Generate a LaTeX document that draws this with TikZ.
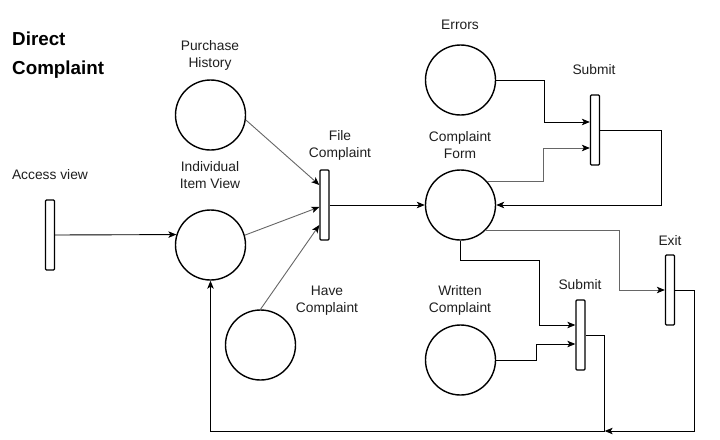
\documentclass[tikz,border=0pt]{standalone}
\usepackage{fontspec}
\setmainfont{Liberation Sans}
\usetikzlibrary{arrows.meta}
\begin{document}
\begin{tikzpicture}[x=1pt,y=-1pt,
 place/.style={circle,draw,line width=1.4pt,minimum size=70pt,inner sep=0pt},
 bar/.style={rectangle,draw,line width=1.3pt,minimum width=9pt,minimum height=70pt,inner sep=0pt,rounded corners=1pt,fill=white},
 lbl/.style={align=center,font=\fontsize{13.8}{17}\selectfont,text=black!88,inner sep=0pt},
 conn/.style={-{Stealth[length=8pt,width=6.5pt,inset=2pt,color=black]},line width=0.9pt},
 gconn/.style={conn,draw=black!60}]
\useasboundingbox (0,0) rectangle (720,439);
\fill[white] (0,0) rectangle (720,439);
% places
\node[place] (ph) at (210.5,115) {};
\node[place] (iiv) at (210.5,245) {};
\node[place] (hc) at (260.5,345) {};
\node[place] (cf) at (460.5,205) {};
\node[place] (err) at (460.5,80) {};
\node[place] (wc) at (460.5,360) {};
% transitions
\node[bar] (av) at (50,235) {};
\node[bar] (fc) at (324.5,205) {};
\node[bar] (s1) at (595,130) {};
\node[bar] (s2) at (580.5,335) {};
\node[bar] (ex) at (670,290) {};
% labels
\node[anchor=west,align=left,inner sep=0pt,font=\fontsize{18.8}{29}\selectfont\bfseries] (title) at (12,55) {Direct\\Complaint};
\node[lbl] (lav) at (50,175) {Access view};
\node[lbl] (lph) at (210,55.5) {Purchase\\History};
\node[lbl] (liiv) at (210,175.5) {Individual\\Item View};
\node[lbl] (lfc) at (340,145.5) {File\\Complaint};
\node[lbl] (lhc) at (327,300.5) {Have\\Complaint};
\node[lbl] (lerr) at (460,25) {Errors};
\node[lbl] (lcf) at (460,145.5) {Complaint\\Form};
\node[lbl] (ls1) at (594,70) {Submit};
\node[lbl] (lex) at (670,241) {Exit};
\node[lbl] (ls2) at (580,285) {Submit};
\node[lbl] (lwc) at (460,300.5) {Written\\Complaint};
% connectors
\draw[conn] (av.east) -- (iiv.163.4);
\draw[gconn] (ph.-8) -- ([yshift=20pt]fc.west);
\draw[gconn] (iiv.16) -- ([yshift=-2pt]fc.west);
\draw[gconn] (hc.north) -- ([yshift=-20pt]fc.west);
\draw[conn] (fc.east) -- (cf.west);
\draw[conn] (err.east) -- ++(48,0) |- ([yshift=8pt]s1.west);
\draw[gconn] (cf.42) -- ++(56,0) |- ([yshift=-18pt]s1.west);
\draw[conn] (s1.east) -- ++(61,0) |- (cf.east);
\draw[gconn] (cf.-45) -| ([xshift=-45.5pt]ex.west) -- (ex.west);
\draw[conn] (cf.south) -- ++(0,20) -| ([xshift=-36pt,yshift=10pt]s2.west) -- ([yshift=10pt]s2.west);
\draw[conn] (wc.east) -- ++(40,0) |- ([yshift=-9pt]s2.west);
\draw[conn] (s2.east) -- ++(19,0) -- ++(0,96) coordinate (j) -| (iiv.south);
\draw[conn] (ex.east) -- ++(19.5,0) |- (j);
\end{tikzpicture}
\end{document}
